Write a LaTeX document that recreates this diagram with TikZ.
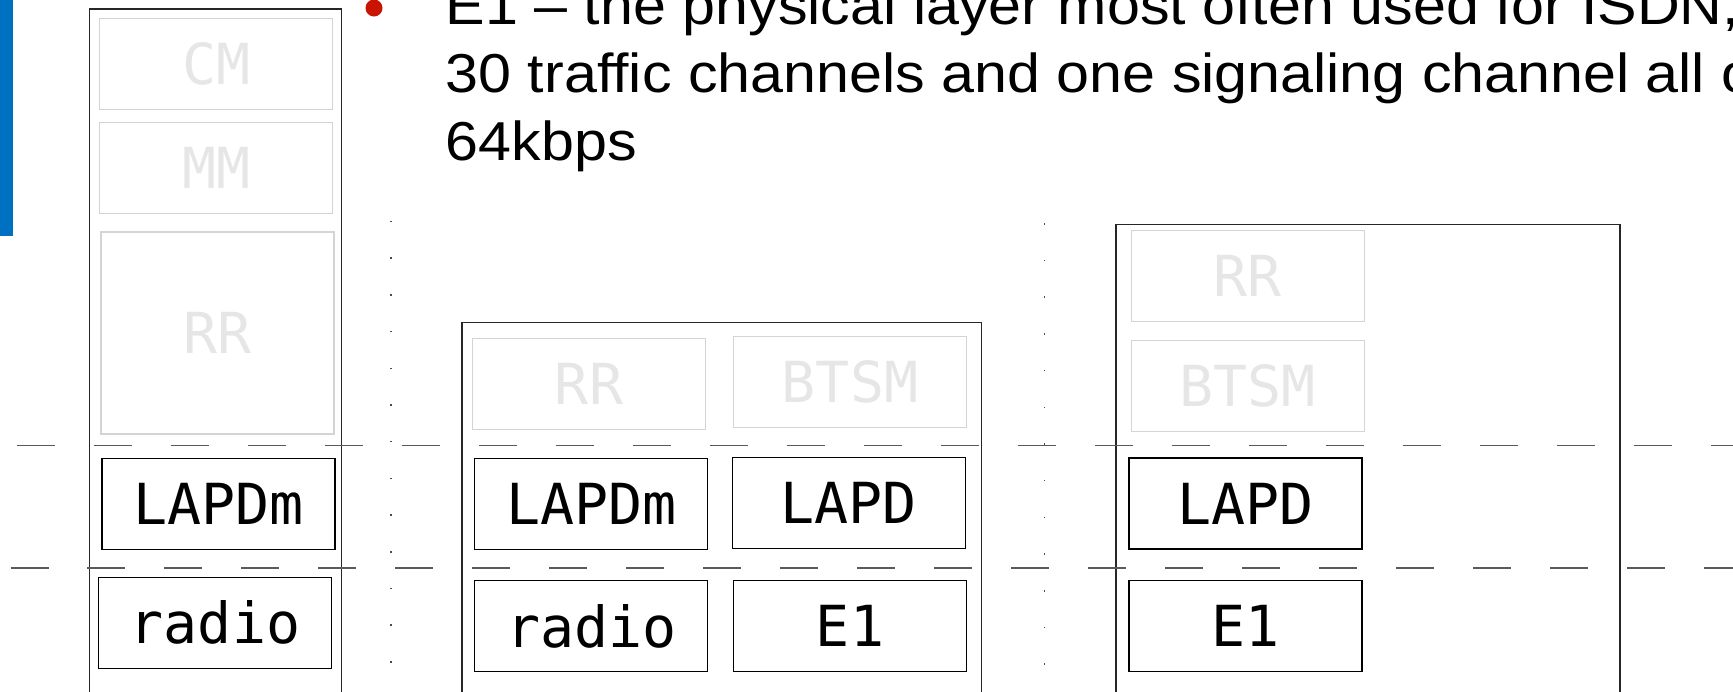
\documentclass[tikz,border=0pt]{standalone}
\usepackage{fontspec}
\setmainfont{Liberation Sans}[FakeStretch=1.08]
\newfontfamily\stackfont{DejaVu Sans Mono}
\definecolor{barblue}{RGB}{0,112,192}
\definecolor{bulletred}{RGB}{200,20,0}
\definecolor{ghostline}{RGB}{212,212,212}
\definecolor{ghosttext}{RGB}{230,230,230}
\definecolor{sepgray}{RGB}{90,90,90}
\tikzset{
  layer/.style={draw=black, line width=0.4pt, inner sep=0pt,
    minimum width=23.3mm, minimum height=9.1mm,
    font=\stackfont\fontsize{16.1}{16.1}\selectfont, text=black},
  ghost/.style={layer, draw=ghostline, text=ghosttext},
  frame/.style={draw=black!85, line width=0.35pt},
  separator/.style={draw=sepgray, line width=0.45pt, dash pattern=on 3.8mm off 3.9mm},
  bodytext/.style={anchor=base west, inner sep=0pt,
    font=\fontsize{15.6}{19.6}\selectfont}
}
\begin{document}
\begin{tikzpicture}[x=0.1mm, y=-0.1mm]
\useasboundingbox (0,0) rectangle (1733,691);
\clip (0,0) rectangle (1733,691);

% slide accent bar
\fill[barblue] (0,0) rectangle (13,236);

% bullet text
\fill[bulletred] (374,8) circle (0.85mm);
\node[bodytext] (l1) at (445,24) {E1 – the physical layer most often used for ISDN,};
\node[bodytext] (l2) at (445,92) {30 traffic channels and one signaling channel all of};
\node[bodytext] (l3) at (445,160) {64kbps};

% dotted interface markers
\foreach \yy in {0,...,13} {
  \fill[black!70] (390.3,220.7+36.7*\yy) rectangle (391.8,222.2+36.7*\yy);
  \fill[black!70] (1043.8,223+36.7*\yy) rectangle (1045.3,224.5+36.7*\yy);
}

% outer frames of the three protocol stacks
\draw[frame] (89.5,720) -- (89.5,9) -- (341.5,9) -- (341.5,720);
\draw[frame] (462,720) -- (462,322.7) -- (981.4,322.7) -- (981.4,720);
\draw[frame] (1116,720) -- (1116,224.4) -- (1620,224.4) -- (1620,720);

% stack 1
\node[ghost] (cm)    at (216.1,64.1) {CM};
\node[ghost] (mm)    at (216.1,168) {MM};
\node[ghost, minimum height=20.2mm] (rra) at (217.7,333) {RR};
\node[layer] (lapdma) at (218.3,504) {LAPDm};
\node[layer] (radioa) at (215,622.8) {radio};

% stack 2
\node[ghost] (rrb)    at (589,384) {RR};
\node[ghost] (btsmb)  at (850,381.9) {BTSM};
\node[layer] (lapdmb) at (591.2,504) {LAPDm};
\node[layer] (lapdb)  at (848.8,502.8) {LAPD};
\node[layer] (radiob) at (591.2,626) {radio};
\node[layer] (eoneb)  at (850,626) {E1};

% stack 3
\node[ghost] (rrc)   at (1247.8,275.8) {RR};
\node[ghost] (btsmc) at (1247.8,386.2) {BTSM};
\node[layer] (lapdc) at (1245.5,503.5) {LAPD};
\node[layer] (eonec) at (1245.5,626) {E1};

% layer separators
\draw[separator] (16.6,445.4) -- (1733,445.4);
\draw[separator] (10.5,568) -- (1733,568);
\end{tikzpicture}
\end{document}
